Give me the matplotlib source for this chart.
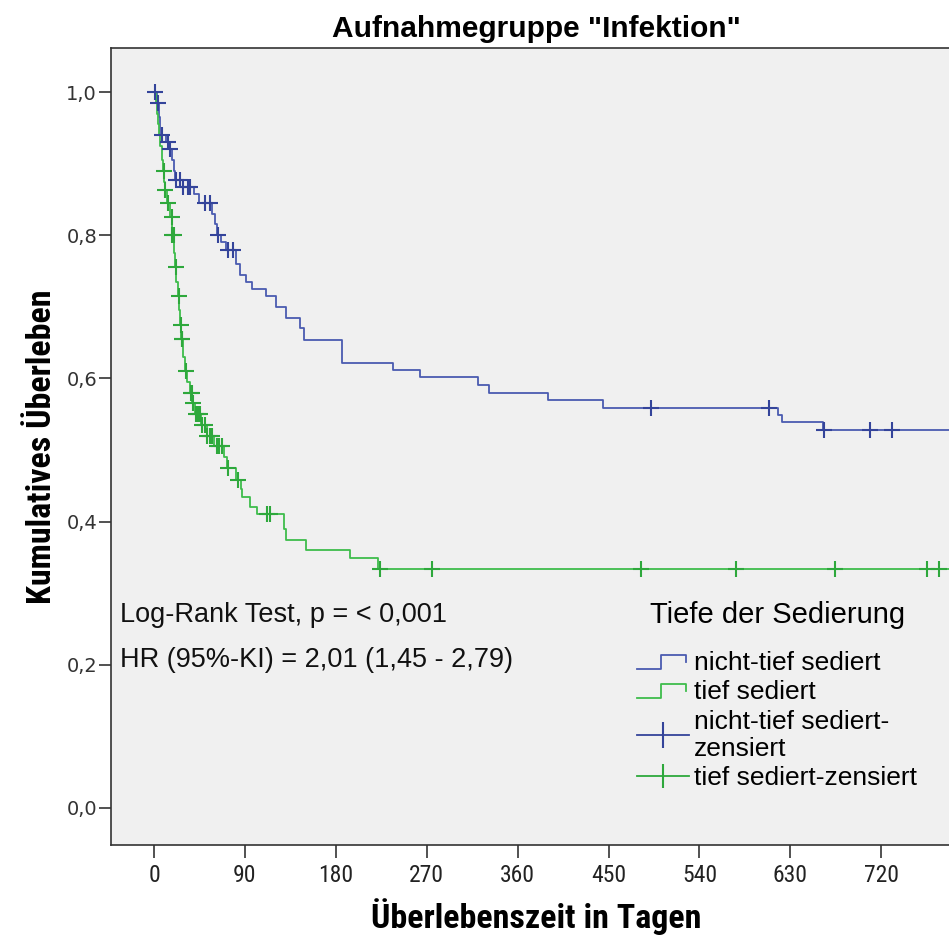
import numpy as np
import matplotlib
matplotlib.use('Agg')
import matplotlib.pyplot as plt
from matplotlib.lines import Line2D
from matplotlib.legend_handler import HandlerBase

# ---------------- data ----------------
title = 'Aufnahmegruppe "Infektion"'
x_label = 'Überlebenszeit in Tagen'
y_label = 'Kumulatives Überleben'
legend_title = 'Tiefe der Sedierung'
series_labels = ['nicht-tief sediert', 'tief sediert',
                 'nicht-tief sediert-\nzensiert', 'tief sediert-zensiert']
annot_lines = ['Log-Rank Test, p = < 0,001', 'HR (95%-KI) = 2,01 (1,45 - 2,79)']

x_ticks = [0, 90, 180, 270, 360, 450, 540, 630, 720]
y_ticks = [0.0, 0.2, 0.4, 0.6, 0.8, 1.0]

# nicht-tief sediert: event days and survival after each event
blue_event_days = [3, 5, 6, 12, 16, 18, 20, 21, 29, 40, 45, 57, 60, 62, 66, 71, 81, 85,
                   91, 97, 111, 121, 131, 145, 148, 186, 237, 263, 321, 332, 390, 445,
                   618, 622, 662]
blue_surv = [0.985, 0.965, 0.94, 0.93, 0.92, 0.905, 0.89, 0.877, 0.868, 0.858, 0.845,
             0.83, 0.815, 0.80, 0.79, 0.78, 0.76, 0.745, 0.735, 0.725, 0.715, 0.70,
             0.685, 0.67, 0.653, 0.622, 0.612, 0.602, 0.591, 0.580, 0.570, 0.559,
             0.549, 0.539, 0.528]
blue_censor_days = [1, 4, 8, 14, 16, 22, 26, 29, 34, 36, 50, 55, 63, 73, 78,
                    492, 609, 663, 709, 731]

# tief sediert
green_event_days = [1.5, 2.7, 4, 5, 6, 7.6, 9.2, 10, 11, 13, 16, 18, 20, 21, 22, 24, 25,
                    26, 27, 29, 31, 33, 36, 38, 41, 47, 52, 59, 69, 72, 81, 86.5, 87.5,
                    95, 102, 129, 131, 150, 194, 222]
green_surv = [0.985, 0.97, 0.955, 0.94, 0.925, 0.905, 0.89, 0.875, 0.863, 0.845, 0.825,
              0.80, 0.775, 0.755, 0.735, 0.715, 0.695, 0.675, 0.655, 0.63, 0.61, 0.595,
              0.58, 0.565, 0.55, 0.535, 0.52, 0.505, 0.49, 0.475, 0.458, 0.445, 0.435,
              0.421, 0.41, 0.39, 0.374, 0.36, 0.349, 0.334]
green_censor_days = [9.5, 11, 14, 17.5, 18, 19.5, 21.5, 24.5, 26.5, 27.5, 28, 31.5, 36.5,
                     37.5, 39, 42, 44, 45.5, 47.5, 50.5, 52.5, 55.5, 57, 62, 64, 67, 73.5,
                     83.5, 111.6, 115, 224, 275, 482, 576, 674, 765, 777]

followup_end = 800

blue_color = '#4a5bb0'
blue_mark = '#34449a'
green_color = '#3ebd4c'
green_mark = '#2ea83c'

narrow = ['Liberation Sans Narrow', 'Roboto Condensed', 'DejaVu Sans']
sans = ['Liberation Sans', 'DejaVu Sans']


def step_curve(days, surv, end):
    t = np.concatenate([[0.0], np.asarray(days, float), [end]])
    s = np.concatenate([[1.0], np.asarray(surv, float)])
    s = np.concatenate([s, [s[-1]]])
    return t, s


def surv_at(t, s, c):
    idx = np.searchsorted(t, np.asarray(c, float), side='right') - 1
    return s[idx]


class StepHandler(HandlerBase):
    def create_artists(self, legend, orig_handle, xdescent, ydescent, width,
                       height, fontsize, trans):
        x0, y0 = -xdescent, -ydescent
        xs = [x0, x0 + 0.45 * width, x0 + 0.45 * width, x0 + 0.95 * width, x0 + 0.95 * width]
        ys = [y0 + 0.05 * height, y0 + 0.05 * height, y0 + 0.8 * height,
              y0 + 0.8 * height, y0 + 0.45 * height]
        ln = Line2D(xs, ys, color=orig_handle.get_color(),
                    lw=orig_handle.get_linewidth())
        ln.set_transform(trans)
        return [ln]


W, H = 949, 938
fig = plt.figure(figsize=(W / 100, H / 100), dpi=100)
fig.patch.set_facecolor('white')
ax = fig.add_axes([111 / W, 1 - 845 / H, (962 - 111) / W, (845 - 48) / H])
ax.set_facecolor('#f0f0f0')

tb, sb = step_curve(blue_event_days, blue_surv, followup_end)
tg, sg = step_curve(green_event_days, green_surv, followup_end)

ax.step(tb, sb, where='post', color=blue_color, lw=1.3, zorder=3)
ax.step(tg, sg, where='post', color=green_color, lw=1.3, zorder=3)
ax.plot(blue_censor_days, surv_at(tb, sb, blue_censor_days), linestyle='none',
        marker='+', markersize=11, mew=1.5, color=blue_mark, zorder=4)
ax.plot(green_censor_days, surv_at(tg, sg, green_censor_days), linestyle='none',
        marker='+', markersize=11, mew=1.5, color=green_mark, zorder=4)

ax.set_xlim(-42.6, 800)
ax.set_ylim(-0.0517, 1.0615)
ax.set_xticks(x_ticks)
ax.set_xticklabels([str(v) for v in x_ticks], fontfamily=narrow, fontsize=17,
                   color='#222222')
ax.set_yticks(y_ticks)
ax.set_yticklabels([f'{v:.1f}'.replace('.', ',') for v in y_ticks],
                   fontfamily=['DejaVu Sans'], fontsize=14, color='#333333')
ax.tick_params(axis='both', direction='out', length=9, width=1.2, color='#333333')
ax.tick_params(axis='x', pad=5)
ax.tick_params(axis='y', pad=1)
for sp in ax.spines.values():
    sp.set_color('#333333')
    sp.set_linewidth(1.2)

ax.set_title(title, fontfamily=sans, fontweight='bold', fontsize=21.5, pad=8)
ax.set_xlabel(x_label, fontfamily=narrow, fontweight='bold', fontsize=24.5, labelpad=8)
ax.set_ylabel(y_label, fontfamily=narrow, fontweight='bold', fontsize=24.5, labelpad=6)

ax.text(-34, 0.2695, annot_lines[0], fontfamily=sans, fontsize=19.5,
        va='center', ha='left', color='#111111')
ax.text(-34, 0.2066, annot_lines[1], fontfamily=sans, fontsize=19.5,
        va='center', ha='left', color='#111111')

handles = [Line2D([], [], color=blue_color, lw=1.3),
           Line2D([], [], color=green_color, lw=1.3),
           Line2D([], [], color=blue_mark, lw=1.3, marker='|', markersize=19, mew=1.5),
           Line2D([], [], color=green_mark, lw=1.3, marker='|', markersize=17, mew=1.5)]
leg = ax.legend(handles, series_labels, title=legend_title,
                loc='upper left', bbox_to_anchor=(0.603, 0.323),
                frameon=False, prop={'family': sans, 'size': 19},
                title_fontproperties={'family': sans, 'size': 21},
                handlelength=1.95, handletextpad=0.2, labelspacing=0.2,
                borderpad=0, numpoints=1,
                handler_map={handles[0]: StepHandler(), handles[1]: StepHandler()})
leg._legend_box.sep = 16
leg.get_texts()[2].set_linespacing(1.17)

fig.savefig('out.png', dpi=100, facecolor='white')
